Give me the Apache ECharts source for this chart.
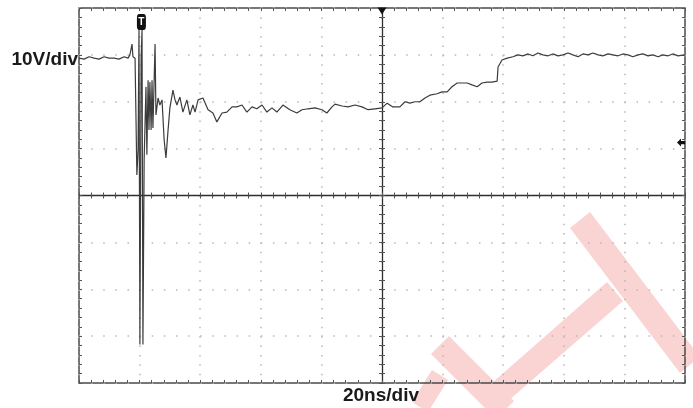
<!DOCTYPE html>
<html>
<head>
<meta charset="utf-8">
<script src="https://cdn.jsdelivr.net/npm/echarts@6/dist/echarts.min.js"></script>
<style>
  html, body { margin: 0; padding: 0; background: #ffffff; }
  #scope { width: 693px; height: 408px; }
</style>
</head>
<body>
<div id="scope"></div>
<script>
// Captured trace: time (ns, 0 = screen centre) and voltage (V)
const timeNs = [
  -100.0, -98.3, -96.7, -95.0, -93.4, -91.7, -90.1, -88.4, -86.8, -85.1,
  -83.8, -83.2, -82.5, -82.2, -81.5, -81.0, -80.9, -80.5, -80.2, -79.9,
  -79.5, -79.2, -78.9, -78.5, -77.9, -77.6, -77.2, -76.9, -76.6, -76.2,
  -75.9, -75.6, -74.9, -74.6, -73.9, -73.3, -72.6, -71.9, -71.3, -70.6,
  -70.0, -69.0, -68.3, -67.7, -66.7, -65.7, -64.4, -63.4, -62.4, -61.7,
  -60.7, -59.1, -57.4, -55.8, -54.5, -52.8, -51.2, -49.5, -47.9, -46.2,
  -44.6, -42.9, -41.3, -39.6, -38.0, -36.3, -34.7, -32.7, -30.4, -28.1,
  -26.4, -24.4, -22.1, -19.8, -18.2, -16.5, -15.5, -13.2, -11.2, -8.9,
  -6.6, -4.6, -2.3, 0.0, 1.7, 3.6, 5.9, 7.6, 9.2, 10.9,
  12.5, 14.2, 15.8, 18.2, 19.8, 21.5, 23.1, 24.8, 26.4, 28.1,
  29.7, 31.4, 33.0, 34.7, 36.3, 38.0, 38.3, 39.6, 41.3, 43.2,
  44.9, 46.5, 48.2, 49.8, 51.5, 53.1, 54.8, 56.4, 58.1, 59.7,
  61.4, 63.0, 64.7, 66.3, 68.0, 69.6, 71.3, 72.9, 74.6, 76.2,
  77.9, 79.5, 81.2, 82.8, 84.5, 86.1, 87.8, 89.4, 91.1, 92.7,
  94.4, 96.0, 97.7, 99.7
];
const volts = [
  29.3, 29.1, 29.6, 29.3, 29.1, 29.6, 29.3, 29.3, 29.1, 29.6,
  29.3, 30.0, 32.3, 29.6, 29.3, 29.3, 4.4, 9.7, 35.3, -31.8,
  28.9, 35.3, -31.8, 7.6, 23.2, 8.7, 24.6, 14.0, 24.2, 14.0,
  24.6, 14.4, 32.3, 17.2, 20.8, 19.3, 20.4, 11.9, 8.0, 14.0,
  18.7, 22.5, 20.4, 19.3, 21.0, 17.8, 20.4, 17.2, 19.3, 17.8,
  20.4, 20.8, 18.3, 17.6, 15.7, 17.6, 17.8, 18.9, 18.9, 19.3,
  17.8, 18.9, 18.5, 19.3, 17.8, 18.7, 17.8, 19.3, 18.3, 17.6,
  18.3, 18.5, 18.7, 18.3, 17.6, 18.9, 19.5, 19.1, 18.9, 19.3,
  18.9, 18.3, 18.5, 18.7, 19.7, 18.9, 18.9, 20.0, 19.7, 20.0,
  20.0, 20.8, 21.4, 21.7, 22.1, 22.1, 23.2, 24.0, 24.0, 24.0,
  23.6, 23.2, 24.0, 24.2, 24.2, 24.4, 27.4, 28.9, 29.3, 29.6,
  30.0, 29.8, 30.2, 29.8, 30.4, 30.0, 29.8, 30.2, 29.8, 30.0,
  30.4, 30.0, 29.6, 30.2, 30.0, 30.4, 30.0, 29.8, 30.2, 30.0,
  29.8, 30.2, 30.0, 29.6, 30.0, 30.2, 29.8, 30.0, 29.6, 30.0,
  29.8, 30.2, 29.8, 30.0
];

// Screen settings: 10 horizontal x 8 vertical divisions
const timeRange = [-100, 100];
const timePerDiv = 20;
const voltRange = [-40, 40];
const voltsPerDiv = 10;
const subdivisions = 5;

// Marker positions
const triggerMark = [-79.4, 37.0];
const triggerLevelV = 11.3;

// Scale readouts
const voltLabel = '10V/div';
const timeLabel = '20ns/div';

const FONT = '"Liberation Sans", Arial, sans-serif';
const trace = timeNs.map((t, i) => [t, volts[i]]);

const chart = echarts.init(document.getElementById('scope'), null, { renderer: 'canvas' });

const gridLeft = 79, gridTop = 8, gridRight = 8, gridBottom = 25;
const plotW = 693 - gridLeft - gridRight;
const plotH = 408 - gridTop - gridBottom;
const hSub = plotW / ((timeRange[1] - timeRange[0]) / timePerDiv) / subdivisions;
const vSub = plotH / ((voltRange[1] - voltRange[0]) / voltsPerDiv) / subdivisions;

function tickAxis(kind, position, inside, onZero) {
  const isX = kind === 'x';
  return {
    type: 'value',
    min: isX ? timeRange[0] : voltRange[0],
    max: isX ? timeRange[1] : voltRange[1],
    interval: (isX ? timePerDiv : voltsPerDiv) / subdivisions,
    position: position,
    axisLine: {
      show: onZero && inside,
      onZero: onZero,
      onZeroAxisIndex: 0,
      lineStyle: { color: '#2e2e2e', width: 1.3 }
    },
    axisTick: { show: true, inside: inside, length: 3, lineStyle: { color: '#555', width: 1 } },
    axisLabel: { show: false },
    splitLine: { show: false }
  };
}

const stampFill = '#fad3d3';

chart.setOption({
  animation: false,
  backgroundColor: '#ffffff',
  grid: {
    left: gridLeft, top: gridTop, right: gridRight, bottom: gridBottom,
    show: true, borderColor: '#4a4a4a', borderWidth: 1.5, backgroundColor: 'transparent'
  },
  xAxis: [
    {
      type: 'value', min: timeRange[0], max: timeRange[1], interval: timePerDiv,
      position: 'bottom',
      axisLine: { show: false, onZero: false },
      axisTick: { show: false }, axisLabel: { show: false },
      splitLine: { show: true, lineStyle: { color: '#b8b8b8', width: 1.5, type: [1.5, vSub - 1.5] } }
    },
    tickAxis('x', 'bottom', true, false),
    tickAxis('x', 'top', true, false),
    tickAxis('x', 'bottom', true, true),
    tickAxis('x', 'bottom', false, true)
  ],
  yAxis: [
    {
      type: 'value', min: voltRange[0], max: voltRange[1], interval: voltsPerDiv,
      position: 'left',
      axisLine: { show: false, onZero: false },
      axisTick: { show: false }, axisLabel: { show: false },
      splitLine: { show: true, lineStyle: { color: '#b8b8b8', width: 1.5, type: [1.5, hSub - 1.5] } }
    },
    tickAxis('y', 'left', true, false),
    tickAxis('y', 'right', true, false),
    tickAxis('y', 'left', true, true),
    tickAxis('y', 'left', false, true)
  ],
  graphic: [
    // faint red logo stamped in the lower right corner
    { type: 'polygon', z: -1, silent: true,
      shape: { points: [[590, 212], [700, 357], [680, 373], [570, 228]] },
      style: { fill: stampFill } },
    { type: 'polygon', z: -1, silent: true,
      shape: { points: [[607, 282], [623, 301], [508, 401], [492, 383]] },
      style: { fill: stampFill } },
    { type: 'polygon', z: -1, silent: true,
      shape: { points: [[449, 336], [514, 401], [496, 419], [431, 354]] },
      style: { fill: stampFill } },
    { type: 'polygon', z: -1, silent: true,
      shape: { points: [[432, 370], [448, 380], [428, 412], [412, 402]] },
      style: { fill: stampFill } },
    { type: 'text', z: 10, x: 78, y: 60,
      style: { text: voltLabel, font: 'bold 19px ' + FONT, fill: '#1a1a1a', align: 'right', verticalAlign: 'middle' } },
    { type: 'text', z: 10, x: 381, y: 396,
      style: { text: timeLabel, font: 'bold 19px ' + FONT, fill: '#1a1a1a', align: 'center', verticalAlign: 'middle' } }
  ],
  series: [{
    type: 'line',
    xAxisIndex: 0, yAxisIndex: 0,
    data: trace,
    showSymbol: false,
    lineStyle: { color: '#3c3c3c', width: 1.2 },
    z: 5,
    markPoint: {
      silent: true,
      data: [
        { coord: triggerMark, symbol: 'roundRect', symbolSize: [9, 16],
          itemStyle: { color: '#111' },
          label: { show: true, formatter: 'T', color: '#fff', fontSize: 10, fontWeight: 'bold', fontFamily: FONT } },
        { coord: [0, voltRange[1]], symbol: 'triangle', symbolRotate: 180, symbolSize: [9, 7],
          symbolOffset: [0, 3], itemStyle: { color: '#111' }, label: { show: false } },
        { coord: [timeRange[1], triggerLevelV], symbol: 'path://M0,5 L5,0 L5,3 L10,3 L10,7 L5,7 L5,10 Z',
          symbolSize: [8, 8], symbolOffset: [-4, 0], itemStyle: { color: '#111' }, label: { show: false } }
      ]
    }
  }]
});
</script>
</body>
</html>
